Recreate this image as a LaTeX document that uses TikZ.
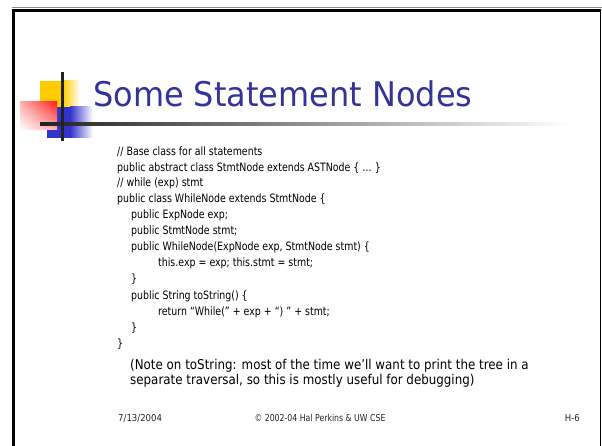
\documentclass[tikz,border=0pt]{standalone}
\usepackage{fontspec}
\usetikzlibrary{shadings}
\setmainfont{DejaVu Sans}[FakeStretch=0.82]
\newfontfamily\titlefont{DejaVu Sans}[FakeStretch=0.94]
\newfontfamily\notefont{DejaVu Sans}[FakeStretch=0.88]
\newfontfamily\footfont{DejaVu Sans}[FakeStretch=0.9]
\newfontfamily\copyfont{DejaVu Sans}[FakeStretch=0.82]
\definecolor{titleblue}{HTML}{333399}
\definecolor{logoyellow}{HTML}{FFCC00}
\definecolor{logored}{HTML}{FF2020}
\definecolor{logoblue}{HTML}{3333CC}
\definecolor{barline}{HTML}{222222}
\tikzset{
  codeline/.style={anchor=base west, inner sep=0pt, font=\fontsize{11.5}{13}\selectfont, text=black},
  noteline/.style={anchor=base west, inner sep=0pt, font=\notefont\fontsize{13.5}{15}\selectfont, text=black},
  footline/.style={inner sep=0pt, font=\footfont\fontsize{9.5}{10}\selectfont, text=black!85},
}
\begin{document}
\begin{tikzpicture}[x=1pt,y=-1pt]
  \useasboundingbox (0,0) rectangle (602,446);
  \fill[white] (0,0) rectangle (602,446);

  % slide frame
  \draw[black!45, line width=1pt] (12,8) -- (602,8);
  \draw[black, line width=3pt] (12,11) -- (601,11);
  \draw[black, line width=3pt] (13.5,10) -- (13.5,446);
  \draw[black, line width=1.3pt] (600.5,10) -- (600.5,446);

  % logo squares
  \fill[logoyellow] (40,81) rectangle (63,107);
  \shade[left color=logoyellow, right color=white] (63,81) rectangle (80,107);
  \fill[logoblue] (47,107) rectangle (70,138);
  \shade[left color=logoblue, right color=white] (70,107) rectangle (93,138);
  \shade[upper right=logored, upper left=logored!35!white,
         lower right=logored!35!white, lower left=white] (20,102) rectangle (57,130);

  % logo cross and title rule
  \shade[left color=barline, right color=white] (40,122.6) rectangle (570,125.6);
  \draw[barline, line width=3pt] (62,72) -- (62,141);

  % title
  \node[anchor=base west, inner sep=0pt, text=titleblue,
        font=\titlefont\fontsize{34}{36}\selectfont] (title) at (93,107) {Some Statement Nodes};

  % code
  \node[codeline] (l1)  at (117,156) {// Base class for all statements};
  \node[codeline] (l2)  at (117,172) {public abstract class StmtNode extends ASTNode \{ … \}};
  \node[codeline] (l3)  at (117,187) {// while (exp) stmt};
  \node[codeline] (l4)  at (117,203) {public class WhileNode extends StmtNode \{};
  \node[codeline] (l5)  at (131,219) {public ExpNode exp;};
  \node[codeline] (l6)  at (131,235) {public StmtNode stmt;};
  \node[codeline] (l7)  at (131,251) {public WhileNode(ExpNode exp, StmtNode stmt) \{};
  \node[codeline] (l8)  at (158,267) {this.exp = exp; this.stmt = stmt;};
  \node[codeline] (l9)  at (131,283) {\}};
  \node[codeline] (l10) at (131,299) {public String toString() \{};
  \node[codeline] (l11) at (158,315) {return “While(” + exp + “) ” + stmt;};
  \node[codeline] (l12) at (131,331) {\}};
  \node[codeline] (l13) at (117,347) {\}};

  % note below the code
  \node[noteline] (n1) at (130,369) {(Note on toString: most of the time we’ll want to print the tree in a};
  \node[noteline] (n2) at (130,384) {separate traversal, so this is mostly useful for debugging)};

  % footer
  \node[footline, anchor=base west] (date) at (118,421) {7/13/2004};
  \node[footline, anchor=base, font=\copyfont\fontsize{9.5}{10}\selectfont] (copy) at (320,421) {© 2002-04 Hal Perkins \& UW CSE};
  \node[footline, anchor=base east] (page) at (580,421) {H-6};
\end{tikzpicture}
\end{document}
